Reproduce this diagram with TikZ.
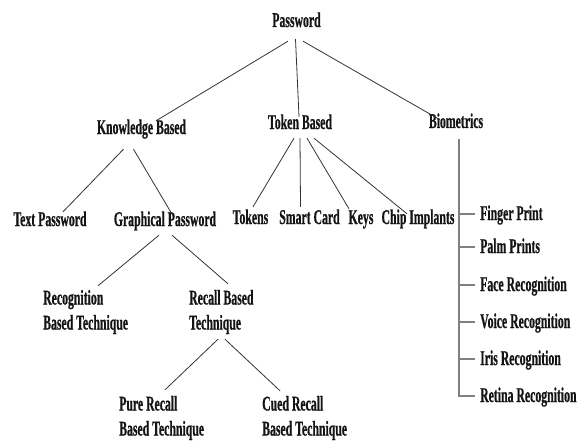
\documentclass[tikz,border=0pt]{standalone}
\usepackage{fontspec}
\usepackage{xcolor}
\usepackage{tikz}
\usetikzlibrary{calc}
\newfontfamily\pwfont[FakeStretch=0.56, BoldFeatures={FakeBold=0.6}]{Liberation Serif}
\definecolor{pwink}{HTML}{141414}
\definecolor{pwgray}{HTML}{808080}
\tikzset{
  pwlbl/.style={inner sep=0pt, text height=12pt, text depth=4pt, text=pwink,
                font={\pwfont\bfseries\fontsize{21}{25}\selectfont}},
  pwtwo/.style={inner sep=0pt, align=left, anchor=west, text=pwink,
                font={\pwfont\bfseries\fontsize{21}{25}\selectfont}},
  pwedge/.style={draw=black!80, line width=0.8pt},
  pwbio/.style={draw=pwgray, line width=1.3pt},
}

\begin{document}
\begin{tikzpicture}[x=1pt,y=-1pt]
  \useasboundingbox (0,0) rectangle (583,441);

  % levels 0 and 1
  \node[pwlbl] (pw) at (296.5,23) {Password};
  \node[pwlbl] (kb) at (141.5,130) {Knowledge Based};
  \node[pwlbl] (tb) at (300,125) {Token Based};
  \node[pwlbl] (bm) at (456,124) {Biometrics};

  % knowledge based
  \node[pwlbl] (tp) at (50,222) {Text Password};
  \node[pwlbl] (gp) at (165,222) {Graphical Password};
  \node[pwtwo] (rg) at (43,312) {Recognition\\Based Technique};
  \node[pwtwo] (rc) at (189,312) {Recall Based\\Technique};
  \node[pwtwo] (pr) at (119,418) {Pure Recall\\Based Technique};
  \node[pwtwo] (cr) at (262,418) {Cued Recall\\Based Technique};

  % token based
  \node[pwlbl] (tk) at (250.5,220) {Tokens};
  \node[pwlbl] (sc) at (309.5,220) {Smart Card};
  \node[pwlbl] (ky) at (361,220) {Keys};
  \node[pwlbl] (ci) at (418,220) {Chip Implants};

  % biometrics
  \foreach \n/\y/\txt in {fp/216/Finger Print, pp/249/Palm Prints,
      fr/287/Face Recognition, vr/324/Voice Recognition,
      ir/361/Iris Recognition, rr/398/Retina Recognition}
  {
    \node[pwlbl, anchor=west] (\n) at (480,\y) {\txt};
    \coordinate (t\n) at ($(\n.west)+(-5,-2)$);
  }

  % connectors
  \draw[pwedge] ([xshift=-8.5pt,yshift=-10pt]pw.south) -- ([xshift=14.5pt,yshift=1pt]kb.north);
  \draw[pwedge] ([xshift=-1pt,yshift=-8pt]pw.south) -- ([xshift=-1pt]tb.north);
  \draw[pwedge] ([xshift=6.5pt,yshift=-10pt]pw.south) -- ([xshift=-16pt,yshift=-4pt]bm.north);

  \draw[pwedge] ([xshift=-18pt,yshift=-11pt]kb.south) -- ([xshift=13pt,yshift=2pt]tp.north);
  \draw[pwedge] ([xshift=-8pt,yshift=-11pt]kb.south) -- ([xshift=8pt,yshift=-2pt]gp.north);
  \draw[pwedge] ([xshift=-6pt,yshift=-5pt]gp.south) -- ([xshift=55pt,yshift=4pt]rg.north west);
  \draw[pwedge] ([xshift=7pt,yshift=-5pt]gp.south) -- ([xshift=39pt,yshift=6pt]rc.north west);
  \draw[pwedge] ([xshift=29pt,yshift=-5pt]rc.south west) -- ([xshift=46pt,yshift=6pt]pr.north west);
  \draw[pwedge] ([xshift=36pt,yshift=-5pt]rc.south west) -- ([xshift=18pt,yshift=5pt]cr.north west);

  \draw[pwedge] ([xshift=-6pt,yshift=-5pt]tb.south) -- ([xshift=2.5pt,yshift=5pt]tk.north);
  \draw[pwedge] ([yshift=-5pt]tb.south) -- ([xshift=-9pt,yshift=5pt]sc.north);
  \draw[pwedge] ([xshift=7pt,yshift=-5pt]tb.south) -- ([xshift=-12pt,yshift=3pt]ky.north);
  \draw[pwedge] ([xshift=14pt,yshift=-5pt]tb.south) -- ([xshift=-11pt,yshift=-2pt]ci.north);

  \coordinate (bmx) at ([xshift=3pt,yshift=-7pt]bm.south);
  \draw[pwbio] (bmx) |- (trr);
  \foreach \n in {fp,pp,fr,vr,ir}
    \draw[pwbio] (bmx |- t\n) -- (t\n);

\end{tikzpicture}
\end{document}
